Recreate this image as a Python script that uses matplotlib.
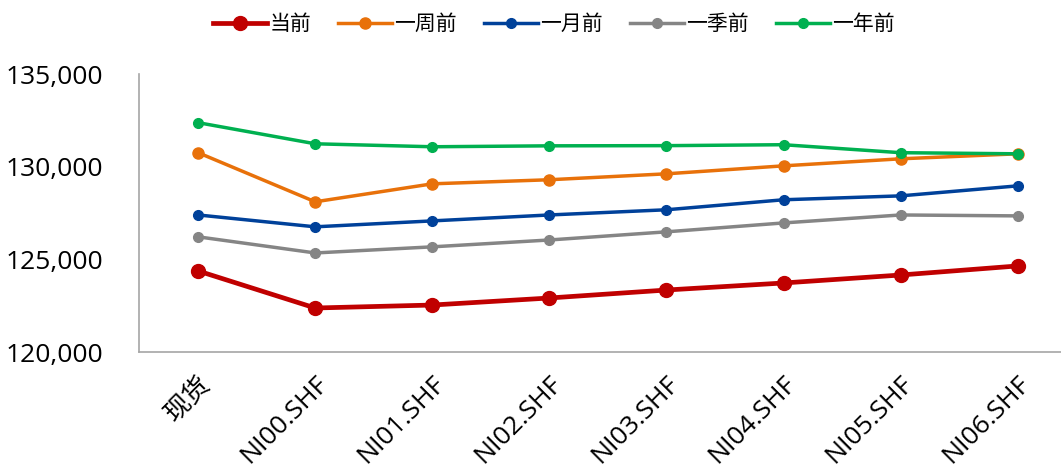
import matplotlib.pyplot as plt
from matplotlib.ticker import FuncFormatter

plt.rcParams['font.family'] = ['Open Sans', 'Noto Sans CJK SC', 'DejaVu Sans']

categories = ['现货', 'NI00.SHF', 'NI01.SHF', 'NI02.SHF', 'NI03.SHF',
              'NI04.SHF', 'NI05.SHF', 'NI06.SHF']
current = [124380, 122380, 122540, 122920, 123350, 123730, 124160, 124650]
week_ago = [130760, 128110, 129080, 129300, 129620, 130050, 130430, 130700]
month_ago = [127400, 126760, 127080, 127400, 127680, 128220, 128430, 128970]
quarter_ago = [126220, 125350, 125680, 126050, 126490, 126970, 127400, 127350]
year_ago = [132380, 131240, 131080, 131130, 131140, 131190, 130760, 130700]

x = list(range(len(categories)))

fig = plt.figure(figsize=(10.61, 4.72), dpi=100)
ax = fig.add_axes([0.131, 0.254, 0.869, 0.589])

ax.plot(x, current, color='#c00000', lw=3.4, marker='o', ms=10, label='当前', zorder=5)
ax.plot(x, week_ago, color='#e8710a', lw=2.5, marker='o', ms=8, label='一周前')
ax.plot(x, month_ago, color='#00419a', lw=2.5, marker='o', ms=7, label='一月前')
ax.plot(x, quarter_ago, color='#858585', lw=2.5, marker='o', ms=7, label='一季前')
ax.plot(x, year_ago, color='#00b050', lw=2.5, marker='o', ms=7, label='一年前')

ax.set_ylim(120000, 135000)
ax.set_yticks([120000, 125000, 130000, 135000])
ax.yaxis.set_major_formatter(FuncFormatter(lambda v, p: f'{int(v):,}'))
ax.set_xlim(-0.505, 7.37)
ax.set_xticks(x)
ax.set_xticklabels(categories, rotation=45, ha='right', rotation_mode='anchor')

for s in ['top', 'right']:
    ax.spines[s].set_visible(False)
for s in ['left', 'bottom']:
    ax.spines[s].set_color('#a6a6a6')
    ax.spines[s].set_linewidth(1.2)
ax.tick_params(axis='both', length=0, labelsize=19)
ax.tick_params(axis='y', pad=26)
ax.tick_params(axis='x', pad=14)

fig.legend(loc='upper center', bbox_to_anchor=(0.522, 1.01), ncol=5, frameon=False,
           fontsize=15, handlelength=2.6, handletextpad=0.1, columnspacing=1.3)

fig.savefig('out.png', dpi=100)
